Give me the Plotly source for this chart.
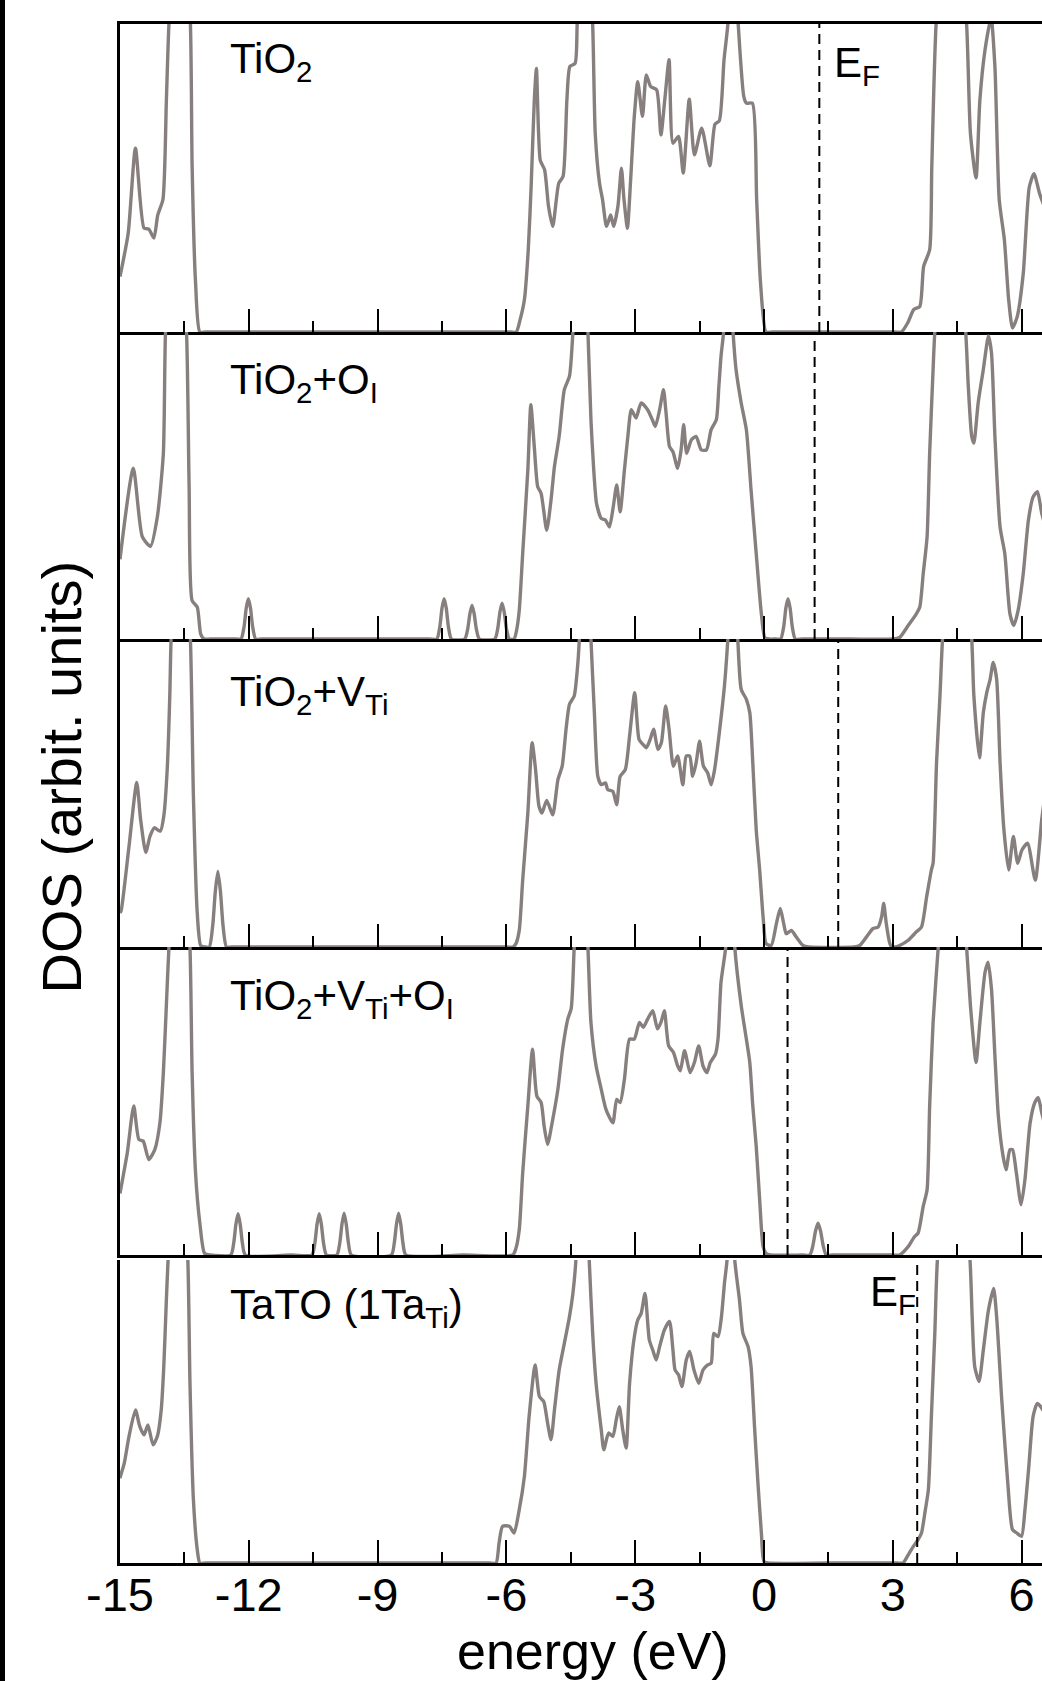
import plotly.graph_objects as go

# ---------------------------------------------------------------------------
# Density of states, energy in eV; DOS in arbitrary units (1.0 = panel top,
# values above 1 are the peaks that run off the top of each panel).
# ---------------------------------------------------------------------------

tio2_e = [
    -15.0, -14.81, -14.64, -14.44, -14.33, -14.21, -14.12, -14.0, -13.92, -13.86,
    -13.6, -13.36, -13.32, -13.24, -13.14, -13.0, -9.0, -5.9, -5.77, -5.68,
    -5.58, -5.49, -5.42, -5.35, -5.30, -5.21, -5.11, -5.02, -4.92, -4.78,
    -4.68, -4.59, -4.52, -4.40, -4.35, -4.17, -3.99, -3.93, -3.83, -3.76,
    -3.67, -3.62, -3.57, -3.50, -3.40, -3.32, -3.26, -3.18, -3.11, -3.02,
    -2.94, -2.83, -2.74, -2.64, -2.50, -2.40, -2.31, -2.21, -2.12, -1.99,
    -1.88, -1.74, -1.62, -1.45, -1.26, -1.14, -1.04, -0.93, -0.84, -0.72,
    -0.60, -0.47, -0.41, -0.27, -0.17, -0.08, 0.05, 0.2, 1.5, 3.05,
    3.20, 3.35, 3.49, 3.63, 3.72, 3.86, 3.91, 4.01, 4.36, 4.72,
    4.81, 4.94, 5.03, 5.15, 5.29, 5.38, 5.48, 5.60, 5.70, 5.79,
    5.90, 6.04, 6.18, 6.29, 6.42, 6.55,
]
tio2_dos = [
    0.18, 0.32, 0.597, 0.337, 0.334, 0.305, 0.38, 0.43, 0.75, 1.0,
    1.6, 1.0, 0.54, 0.16, 0.0, 0.0, 0.0, 0.0, 0.0, 0.04,
    0.105, 0.267, 0.483, 0.75, 0.856, 0.557, 0.527, 0.41, 0.343, 0.483,
    0.505, 0.754, 0.862, 0.872, 1.0, 1.5, 1.0, 0.645, 0.483, 0.43,
    0.343, 0.36, 0.38, 0.343, 0.41, 0.532, 0.43, 0.337, 0.483, 0.70,
    0.813, 0.70, 0.835, 0.797, 0.786, 0.64, 0.754, 0.884, 0.613, 0.635,
    0.516, 0.756, 0.575, 0.662, 0.54, 0.675, 0.686, 0.884, 1.0, 1.3,
    1.0, 0.765, 0.743, 0.743, 0.43, 0.16, 0.0, 0.0, 0.0, 0.0,
    0.0, 0.03, 0.073, 0.083, 0.213, 0.267, 0.537, 1.0, 1.6, 1.0,
    0.645, 0.50, 0.754, 0.916, 1.02, 0.862, 0.43, 0.30, 0.105, 0.013,
    0.05, 0.19, 0.47, 0.514, 0.45, 0.40,
]

tio2_oi_e = [
    -15.0, -14.69, -14.48, -14.29, -14.13, -13.99, -13.94, -13.7, -13.45, -13.39,
    -13.32, -13.20, -13.12, -13.04, -12.9, -12.3,
    -12.18, -12.11, -12.06, -12.01, -11.96, -11.91, -11.84, -11.7, -7.8,
    -7.62, -7.55, -7.50, -7.45, -7.40, -7.35, -7.28,
    -6.97, -6.90, -6.85, -6.80, -6.75, -6.70, -6.63,
    -6.27, -6.20, -6.15, -6.10, -6.05, -6.00, -5.93,
    -5.82, -5.76, -5.70, -5.62, -5.50, -5.43, -5.35, -5.27, -5.19, -5.06,
    -4.96, -4.88, -4.77, -4.65, -4.53, -4.45, -4.27, -4.10, -4.03, -3.97,
    -3.90, -3.79, -3.69, -3.60, -3.51, -3.43, -3.35, -3.25, -3.17, -3.09,
    -2.98, -2.86, -2.71, -2.60, -2.53, -2.43, -2.34, -2.28, -2.20, -2.12,
    -2.01, -1.93, -1.87, -1.80, -1.69, -1.58, -1.46, -1.34, -1.23, -1.11,
    -1.05, -1.00, -0.94, -0.83, -0.72, -0.65, -0.53, -0.41, -0.30, -0.18,
    -0.06, 0.02, 0.12, 0.28,
    0.39, 0.46, 0.51, 0.56, 0.61, 0.66, 0.73, 0.9, 2.0,
    3.0, 3.16, 3.36, 3.55, 3.63, 3.71, 3.80, 3.86, 3.94, 3.98,
    4.34, 4.70, 4.76, 4.84, 4.89, 4.99, 5.11, 5.23, 5.30, 5.38,
    5.50, 5.61, 5.73, 5.82, 5.92, 6.04, 6.16, 6.27, 6.37, 6.47, 6.55,
]
tio2_oi_dos = [
    0.26, 0.556, 0.333, 0.302, 0.398, 0.605, 1.0, 1.6, 1.0, 0.496,
    0.125, 0.104, 0.016, 0.0, 0.0, 0.0,
    0.0, 0.04, 0.10, 0.131, 0.10, 0.04, 0.0, 0.0, 0.0,
    0.0, 0.04, 0.10, 0.131, 0.10, 0.04, 0.0,
    0.0, 0.033, 0.082, 0.109, 0.082, 0.033, 0.0,
    0.0, 0.035, 0.088, 0.117, 0.088, 0.035, 0.0,
    0.0, 0.03, 0.093, 0.278, 0.551, 0.763, 0.627, 0.496, 0.474, 0.354,
    0.453, 0.562, 0.66, 0.812, 0.856, 1.0, 1.5, 1.0, 0.714, 0.562,
    0.442, 0.393, 0.387, 0.365, 0.431, 0.502, 0.414, 0.551, 0.66, 0.747,
    0.72, 0.769, 0.747, 0.714, 0.692, 0.747, 0.812, 0.736, 0.627, 0.610,
    0.556, 0.616, 0.698, 0.605, 0.649, 0.66, 0.616, 0.616, 0.682, 0.714,
    0.823, 0.921, 1.0, 1.3, 1.0, 0.878, 0.769, 0.682, 0.485, 0.278,
    0.082, 0.005, 0.0, 0.0,
    0.0, 0.04, 0.10, 0.131, 0.10, 0.04, 0.0, 0.0, 0.0,
    0.0, 0.005, 0.044, 0.082, 0.104, 0.213, 0.333, 0.605, 0.878, 1.0,
    1.6, 1.0, 0.823, 0.66, 0.638, 0.769, 0.878, 0.987, 0.932, 0.66,
    0.365, 0.278, 0.082, 0.044, 0.093, 0.213, 0.387, 0.463, 0.48, 0.41, 0.37,
]

tio2_vti_e = [
    -15.0, -14.97, -14.79, -14.61, -14.52, -14.40, -14.30, -14.20, -14.06, -13.98,
    -13.90, -13.84, -13.81, -13.58, -13.36, -13.29, -13.20, -13.12, -13.02,
    -12.92, -12.84, -12.78, -12.72, -12.66, -12.60, -12.52, -12.4, -9.0, -6.0,
    -5.85, -5.78, -5.70, -5.62, -5.50, -5.40, -5.32, -5.24, -5.17, -5.06,
    -4.92, -4.80, -4.70, -4.61, -4.53, -4.42, -4.34, -4.30, -4.16, -4.03,
    -3.95, -3.87, -3.79, -3.69, -3.64, -3.52, -3.43, -3.35, -3.23, -3.13,
    -3.01, -2.91, -2.82, -2.74, -2.65, -2.57, -2.47, -2.39, -2.29, -2.21,
    -2.11, -2.01, -1.89, -1.81, -1.73, -1.66, -1.58, -1.50, -1.41, -1.31,
    -1.23, -1.15, -1.03, -0.92, -0.84, -0.72, -0.61, -0.53, -0.41, -0.33,
    -0.26, -0.18, -0.10, -0.02, 0.05, 0.17, 0.29, 0.38, 0.46, 0.52,
    0.64, 0.75, 0.91, 1.05, 2.1,
    2.23, 2.39, 2.54, 2.66, 2.74, 2.79, 2.85, 2.95, 3.05, 3.16,
    3.36, 3.55, 3.67, 3.79, 3.90, 3.94, 4.02, 4.10, 4.16, 4.50,
    4.84, 4.89, 5.02, 5.11, 5.19, 5.27, 5.34, 5.42, 5.50, 5.59,
    5.70, 5.81, 5.91, 6.01, 6.14, 6.32, 6.47, 6.55,
]
tio2_vti_dos = [
    0.11, 0.12, 0.327, 0.534, 0.414, 0.307, 0.36, 0.387, 0.376, 0.425,
    0.577, 0.817, 1.0, 1.6, 1.0, 0.49, 0.109, 0.005, 0.0,
    0.0, 0.07, 0.18, 0.245, 0.18, 0.07, 0.0, 0.0, 0.0, 0.0,
    0.0, 0.01, 0.054, 0.217, 0.435, 0.663, 0.576, 0.457, 0.435, 0.476,
    0.429, 0.543, 0.587, 0.707, 0.788, 0.815, 0.913, 1.0, 1.5, 1.0,
    0.761, 0.554, 0.527, 0.533, 0.511, 0.505, 0.462, 0.554, 0.576, 0.685,
    0.826, 0.674, 0.658, 0.647, 0.674, 0.707, 0.641, 0.663, 0.783, 0.707,
    0.587, 0.62, 0.527, 0.62, 0.62, 0.554, 0.598, 0.668, 0.587, 0.565,
    0.527, 0.576, 0.707, 0.848, 1.0, 1.3, 1.0, 0.837, 0.804, 0.761,
    0.598, 0.38, 0.25, 0.098, 0.011, 0.005, 0.076, 0.125, 0.076, 0.043,
    0.054, 0.033, 0.005, 0.0, 0.0,
    0.005, 0.033, 0.06, 0.065, 0.098, 0.141, 0.076, 0.005, 0.0, 0.005,
    0.022, 0.049, 0.065, 0.163, 0.25, 0.272, 0.598, 0.815, 1.0, 1.6,
    1.0, 0.815, 0.614, 0.761, 0.826, 0.87, 0.924, 0.87, 0.598, 0.38,
    0.25, 0.359, 0.272, 0.315, 0.337, 0.217, 0.413, 0.50,
]

tio2_vti_oi_e = [
    -15.0, -14.97, -14.83, -14.68, -14.56, -14.46, -14.33, -14.19, -14.07, -13.99,
    -13.92, -13.86, -13.6, -13.37, -13.32, -13.24, -13.14, -13.03, -12.9,
    -12.42, -12.35, -12.30, -12.25, -12.20, -12.15, -12.08, -11.0,
    -10.53, -10.46, -10.41, -10.36, -10.31, -10.26, -10.19,
    -9.95, -9.88, -9.83, -9.78, -9.73, -9.68, -9.61,
    -8.68, -8.61, -8.56, -8.51, -8.46, -8.41, -8.34, -7.0,
    -5.85, -5.78, -5.70, -5.62, -5.50, -5.39, -5.29, -5.19, -5.12, -5.04,
    -4.92, -4.80, -4.69, -4.57, -4.49, -4.42, -4.26, -4.10, -4.03, -3.91,
    -3.79, -3.68, -3.52, -3.43, -3.35, -3.25, -3.13, -3.02, -2.90, -2.81,
    -2.71, -2.59, -2.48, -2.40, -2.32, -2.22, -2.11, -2.01, -1.95, -1.85,
    -1.72, -1.62, -1.52, -1.42, -1.33, -1.25, -1.13, -1.07, -1.00, -0.89,
    -0.78, -0.68, -0.53, -0.41, -0.33, -0.26, -0.18, -0.10, -0.02, 0.05,
    0.15, 0.9,
    1.07, 1.14, 1.20, 1.26, 1.32, 1.38, 1.45, 1.6, 3.0,
    3.16, 3.36, 3.51, 3.59, 3.71, 3.80, 3.86, 3.94, 4.06, 4.39,
    4.72, 4.81, 4.94, 5.03, 5.15, 5.22, 5.30, 5.38, 5.46, 5.57,
    5.64, 5.73, 5.79, 5.88, 5.99, 6.08, 6.20, 6.31, 6.39, 6.47, 6.55,
]
tio2_vti_oi_dos = [
    0.2, 0.223, 0.332, 0.484, 0.375, 0.37, 0.31, 0.342, 0.429, 0.592,
    0.81, 1.0, 1.6, 1.0, 0.592, 0.266, 0.103, 0.005, 0.0,
    0.0, 0.04, 0.10, 0.134, 0.10, 0.04, 0.0, 0.0,
    0.0, 0.04, 0.10, 0.134, 0.10, 0.04, 0.0,
    0.0, 0.04, 0.10, 0.136, 0.10, 0.04, 0.0,
    0.0, 0.04, 0.10, 0.136, 0.10, 0.04, 0.0, 0.0,
    0.0, 0.02, 0.082, 0.266, 0.484, 0.668, 0.516, 0.495, 0.418, 0.359,
    0.44, 0.538, 0.668, 0.766, 0.80, 1.0, 1.5, 1.0, 0.755, 0.614,
    0.538, 0.473, 0.429, 0.505, 0.495, 0.571, 0.701, 0.701, 0.755, 0.739,
    0.766, 0.793, 0.734, 0.755, 0.793, 0.679, 0.658, 0.614, 0.598, 0.663,
    0.592, 0.625, 0.679, 0.614, 0.592, 0.625, 0.652, 0.701, 0.886, 1.0,
    1.3, 1.0, 0.81, 0.701, 0.625, 0.484, 0.353, 0.179, 0.027, 0.005,
    0.0, 0.0,
    0.0, 0.03, 0.077, 0.103, 0.077, 0.03, 0.0, 0.0, 0.0,
    0.0, 0.027, 0.06, 0.071, 0.158, 0.212, 0.484, 0.755, 1.0, 1.6,
    1.0, 0.81, 0.625, 0.755, 0.918, 0.951, 0.864, 0.647, 0.451, 0.321,
    0.277, 0.342, 0.342, 0.266, 0.163, 0.245, 0.429, 0.495, 0.511, 0.462, 0.42,
]

tato_e = [
    -15.0, -14.99, -14.90, -14.79, -14.64, -14.54, -14.44, -14.35, -14.23, -14.13,
    -14.04, -13.98, -13.92, -13.88, -13.65, -13.42, -13.37, -13.29, -13.20, -13.14,
    -13.0, -9.0, -6.4,
    -6.24, -6.17, -6.09, -5.93, -5.82, -5.70, -5.58, -5.47, -5.33, -5.23,
    -5.13, -5.04, -4.96, -4.88, -4.77, -4.65, -4.53, -4.45, -4.38, -4.22,
    -4.07, -3.99, -3.91, -3.79, -3.73, -3.62, -3.52, -3.44, -3.37, -3.29,
    -3.21, -3.13, -3.03, -2.94, -2.86, -2.77, -2.67, -2.59, -2.51, -2.43,
    -2.32, -2.20, -2.12, -2.07, -1.99, -1.91, -1.81, -1.73, -1.63, -1.52,
    -1.42, -1.31, -1.23, -1.17, -1.07, -0.99, -0.92, -0.86, -0.77, -0.68,
    -0.57, -0.49, -0.37, -0.30, -0.22, -0.14, -0.06, 0.0, 0.1, 1.5,
    3.1, 3.24, 3.36, 3.48, 3.59, 3.67, 3.76, 3.83, 3.90, 3.98,
    4.04, 4.42, 4.80, 4.85, 4.91, 5.01, 5.11, 5.23, 5.35, 5.42,
    5.54, 5.68, 5.79, 5.89, 6.00, 6.08, 6.17, 6.27, 6.37, 6.50, 6.55,
]
tato_dos = [
    0.28, 0.286, 0.33, 0.418, 0.505, 0.451, 0.423, 0.456, 0.39, 0.418,
    0.505, 0.648, 0.868, 1.0, 1.6, 1.0, 0.593, 0.209, 0.044, 0.0,
    0.0, 0.0, 0.0,
    0.0, 0.066, 0.121, 0.121, 0.099, 0.176, 0.286, 0.484, 0.654, 0.549,
    0.533, 0.462, 0.407, 0.505, 0.637, 0.725, 0.813, 0.89, 1.0, 1.5,
    1.0, 0.758, 0.593, 0.44, 0.374, 0.429, 0.418, 0.473, 0.516, 0.44,
    0.379, 0.593, 0.736, 0.802, 0.824, 0.89, 0.736, 0.703, 0.67, 0.714,
    0.769, 0.797, 0.703, 0.637, 0.621, 0.582, 0.67, 0.698, 0.637, 0.593,
    0.637, 0.654, 0.659, 0.758, 0.747, 0.813, 0.923, 1.0, 1.3, 1.0,
    0.868, 0.758, 0.714, 0.648, 0.451, 0.264, 0.099, 0.005, 0.0, 0.0,
    0.0, 0.0, 0.027, 0.055, 0.077, 0.099, 0.176, 0.242, 0.484, 0.758,
    1.0, 1.6, 1.0, 0.813, 0.648, 0.599, 0.703, 0.835, 0.906, 0.813,
    0.538, 0.264, 0.11, 0.099, 0.088, 0.176, 0.319, 0.484, 0.527, 0.505, 0.49,
]

# Fermi level of each system (eV)
fermi_levels = [1.29, 1.18, 1.73, 0.55, 3.57]

panel_labels = [
    "TiO<sub>2</sub>",
    "TiO<sub>2</sub>+O<sub>I</sub>",
    "TiO<sub>2</sub>+V<sub>Ti</sub>",
    "TiO<sub>2</sub>+V<sub>Ti</sub>+O<sub>I</sub>",
    "TaTO (1Ta<sub>Ti</sub>)",
]

tick_values = [-15, -12, -9, -6, -3, 0, 3, 6]
tick_labels = ["-15", "-12", "-9", "-6", "-3", "0", "3", "6"]
minor_tick_values = [-13.5, -10.5, -7.5, -4.5, -1.5, 1.5, 4.5]

curves = [
    (tio2_e, tio2_dos),
    (tio2_oi_e, tio2_oi_dos),
    (tio2_vti_e, tio2_vti_dos),
    (tio2_vti_oi_e, tio2_vti_oi_dos),
    (tato_e, tato_dos),
]

# ---------------------------------------------------------------------------
# Layout
# ---------------------------------------------------------------------------
W, H = 1042, 1681
LEFT = 120
PX_PER_EV = 42.93
X_MAX = -15 + (W - LEFT) / PX_PER_EV
FONT = "Liberation Sans, Arial, Helvetica, sans-serif"
CURVE_COLOR = "#877f7d"

# panel extents in pixels from the top of the page (top, bottom)
panel_px = [(24, 332), (332, 639), (639, 947), (947, 1255), (1260, 1563)]
# label anchor rows (pixel y of the box top)
label_top_px = [33, 354, 666, 970, 1279]

fig = go.Figure()
layout = {}

for i, (energy, dos) in enumerate(curves):
    n = "" if i == 0 else str(i + 1)
    fig.add_trace(go.Scatter(
        x=energy, y=dos, mode="lines",
        line=dict(color=CURVE_COLOR, width=3.4, shape="spline", smoothing=0.6),
        xaxis="x" + n, yaxis="y" + n,
        showlegend=False, hoverinfo="skip",
    ))
    top, bot = panel_px[i]
    layout["xaxis" + n] = dict(
        domain=[0, 1], range=[-15, X_MAX], anchor="y" + n,
        tickmode="array", tickvals=tick_values, ticktext=tick_labels,
        showticklabels=(i == 4), ticklabelstandoff=-11,
        tickfont=dict(family=FONT, size=47, color="black"),
        ticks="inside", ticklen=23, tickwidth=2, tickcolor="black",
        minor=dict(tickmode="array", tickvals=minor_tick_values,
                   ticks="inside", ticklen=11, tickwidth=2, tickcolor="black"),
        showline=True, linewidth=3, linecolor="black", mirror=(i == 0),
        showgrid=False, zeroline=False, automargin=False, fixedrange=True,
    )
    layout["yaxis" + n] = dict(
        domain=[1 - bot / H, 1 - top / H], range=[0, 1], anchor="x" + n,
        showline=True, linewidth=3, linecolor="black",
        ticks="", showticklabels=False,
        showgrid=False, zeroline=False, automargin=False, fixedrange=True,
    )

shapes = []
annotations = []

for i, ef in enumerate(fermi_levels):
    n = "" if i == 0 else str(i + 1)
    shapes.append(dict(
        type="line", xref="x" + n, yref="y" + n + " domain",
        x0=ef, x1=ef, y0=0, y1=1,
        line=dict(color="black", width=2, dash="10px,6px"),
    ))
    annotations.append(dict(
        text=panel_labels[i], xref="paper", yref="paper",
        x=(228 - LEFT) / (W - LEFT), y=1 - label_top_px[i] / H,
        xanchor="left", yanchor="top", showarrow=False, align="left",
        font=dict(family=FONT, size=42, color="black"),
    ))

# Fermi-level markers in the first and last panel
for ef_px, top_px in [(832, 37), (868, 1266)]:
    annotations.append(dict(
        text="E<sub>F</sub>", xref="paper", yref="paper",
        x=(ef_px - LEFT) / (W - LEFT), y=1 - top_px / H,
        xanchor="left", yanchor="top", showarrow=False,
        font=dict(family=FONT, size=42, color="black"),
    ))

# axis titles
annotations.append(dict(
    text="energy (eV)", xref="paper", yref="paper",
    x=(593 - LEFT) / (W - LEFT), y=1 - 1651 / H,
    xanchor="center", yanchor="middle", showarrow=False,
    font=dict(family=FONT, size=52, color="black"),
))
annotations.append(dict(
    text="DOS (arbit. units)", xref="paper", yref="paper",
    x=(61 - LEFT) / (W - LEFT), y=1 - 777.5 / H, textangle=-90,
    xanchor="center", yanchor="middle", showarrow=False,
    font=dict(family=FONT, size=56, color="black"),
))

# black rule along the left edge of the page
shapes.append(dict(
    type="rect", xref="paper", yref="paper",
    x0=-LEFT / (W - LEFT), x1=(5 - LEFT) / (W - LEFT), y0=0, y1=1,
    fillcolor="black", line=dict(width=0), layer="above",
))

fig.update_layout(
    width=W, height=H,
    margin=dict(l=LEFT, r=0, t=0, b=0, pad=0),
    paper_bgcolor="white", plot_bgcolor="white",
    font=dict(family=FONT, color="black"),
    shapes=shapes, annotations=annotations,
    showlegend=False,
    **layout,
)

fig.write_html("out.html", config={"displayModeBar": False})
